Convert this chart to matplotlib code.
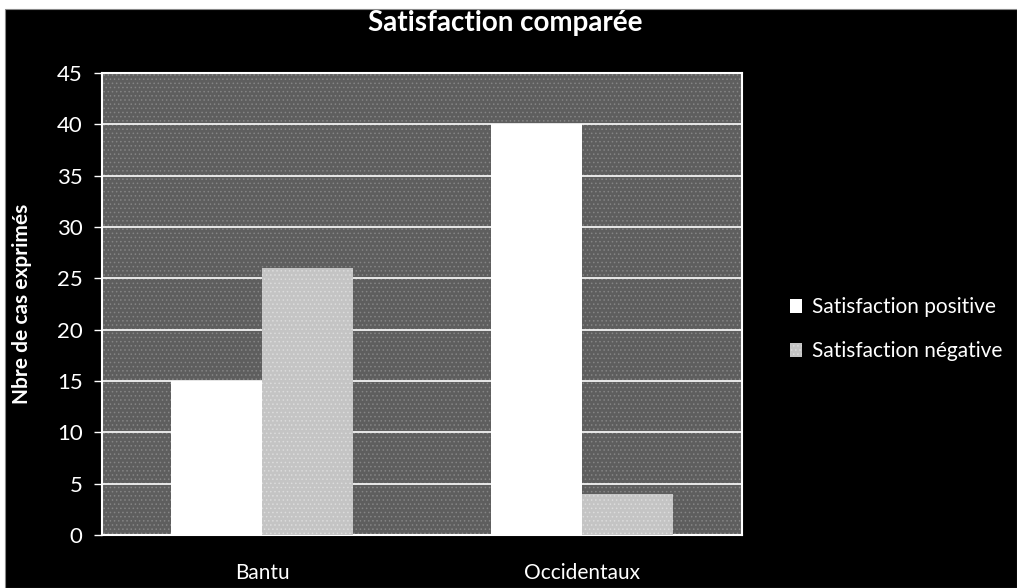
import matplotlib
matplotlib.use("Agg")
import matplotlib.pyplot as plt
from matplotlib.patches import Rectangle
import numpy as np

categories = ["Bantu", "Occidentaux"]
series_names = ["Satisfaction positive", "Satisfaction négative"]
positive = [15, 40]
negative = [26, 4]
y_ticks = [0, 5, 10, 15, 20, 25, 30, 35, 40, 45]

plt.rcParams["font.family"] = ["Lato", "DejaVu Sans"]
plt.rcParams["hatch.linewidth"] = 0.6

W, H = 1017, 588
fig = plt.figure(figsize=(W / 100, H / 100), dpi=100, facecolor="white")
# black chart area with a thin white margin at the top and left
fig.patches.append(Rectangle((5 / W, 0), 1 - 5 / W, 1 - 9 / H, transform=fig.transFigure,
                             facecolor="black", edgecolor="#888888", lw=0.8, zorder=-10))

left, right, top, bottom = 102 / W, 742 / W, 1 - 73 / H, 1 - 535 / H
ax = fig.add_axes([left, bottom, right - left, top - bottom])
ax.set_zorder(1)
ax.set_facecolor("#5e5e5e")
ax.patch.set_hatch("....")
ax.patch.set_edgecolor("#858585")
ax.patch.set_linewidth(0)

x = np.arange(len(categories))
bw = 0.285
ax.bar(x - bw / 2, positive, width=bw, color="white", zorder=3, label=series_names[0])
ax.bar(x + bw / 2, negative, width=bw, color="#c4c4c4", edgecolor="#dcdcdc", hatch="....",
       linewidth=0, zorder=3, label=series_names[1])

ax.set_xlim(-0.5, 1.5)
ax.set_ylim(0, 45)
ax.set_yticks(y_ticks)
ax.yaxis.grid(True, color="white", lw=1.2, zorder=1)
ax.set_axisbelow(True)
ax.tick_params(axis="y", colors="white", labelsize=16, length=6, width=1, pad=8)
ax.tick_params(axis="x", colors="white", labelsize=15, length=0, pad=20)
ax.set_xticks(x)
ax.set_xticklabels(categories)
for s in ax.spines.values():
    s.set_color("white")
    s.set_linewidth(1.5)

ax.set_ylabel("Nbre de cas exprimés", color="white", fontsize=15, fontweight="bold")
ax.yaxis.set_label_coords(-0.125, 0.5)
ax.yaxis.label.set_va("center")
fig.text(0.497, 1 - 23 / H, "Satisfaction comparée", color="white", fontsize=20,
         fontweight="bold", ha="center", va="center")

leg = ax.legend(loc="center left", bbox_to_anchor=(1.058, 0.445), frameon=False, fontsize=15,
                labelcolor="white", handlelength=0.6, handleheight=0.6, handletextpad=0.5,
                labelspacing=1.15, borderpad=0)

fig.savefig("out.png", dpi=100, facecolor=fig.get_facecolor())
